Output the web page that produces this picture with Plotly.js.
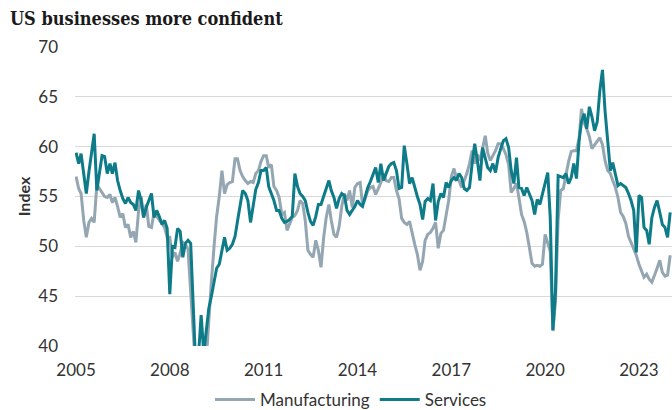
<!DOCTYPE html>
<html>
<head>
<meta charset="utf-8">
<script src="https://cdn.plot.ly/plotly-3.0.1.min.js"></script>
<style>
html,body{margin:0;padding:0;background:#fff;}
#chart{width:672px;height:410px;}
</style>
</head>
<body>
<div id="chart"></div>
<script>
// Monthly index values, Jan 2005 .. Jan 2024
const startYear = 2005;
const manufacturing = [
  57.0, 55.8, 55.3, 52.6, 50.9, 52.4, 52.8, 52.4, 56.2, 55.8, 55.5, 55.0, // 2005
  54.9, 55.2, 54.4, 54.9, 54.0, 52.9, 53.3, 51.9, 52.2, 50.9, 51.5, 50.4, // 2006
  53.5, 55.0, 52.9, 54.2, 52.0, 51.9, 53.4, 53.0, 52.6, 52.2, 51.9, 50.9, // 2007
  50.9, 48.9, 49.4, 48.5, 49.3, 50.4, 50.2, 49.7, 45.0, 39.0, 36.2, 33.0, // 2008
  34.5, 35.5, 38.5, 43.0, 46.5, 50.0, 53.0, 55.0, 57.6, 55.3, 56.2, 56.4, // 2009
  56.5, 58.8, 58.8, 57.6, 57.0, 56.6, 56.3, 56.5, 56.4, 57.3, 57.6, 58.5, // 2010
  59.1, 59.1, 57.9, 58.2, 56.0, 55.6, 54.9, 53.2, 53.4, 51.6, 52.2, 52.9, // 2011
  53.1, 53.6, 54.6, 54.3, 52.6, 49.6, 49.2, 48.9, 50.6, 49.6, 47.9, 50.8, // 2012
  52.9, 54.2, 52.6, 51.2, 50.9, 52.0, 54.0, 55.3, 54.6, 55.6, 53.9, 55.9, // 2013
  56.3, 56.4, 54.2, 54.8, 55.6, 55.9, 56.0, 55.2, 55.8, 56.4, 57.3, 56.6, // 2014
  56.5, 56.9, 56.9, 55.6, 54.8, 52.8, 52.4, 52.2, 52.5, 51.2, 50.2, 49.2, // 2015
  47.6, 48.5, 50.6, 51.2, 51.4, 51.8, 52.4, 49.8, 51.3, 51.6, 53.2, 54.6, // 2016
  57.0, 57.8, 56.9, 56.6, 55.9, 56.6, 57.3, 58.3, 59.6, 58.3, 59.2, 58.6, // 2017
  60.0, 61.1, 59.4, 58.6, 59.1, 59.6, 60.3, 60.3, 59.8, 59.2, 58.2, 55.4, // 2018
  55.8, 56.3, 54.9, 53.2, 52.5, 51.4, 49.9, 48.3, 48.0, 48.1, 48.0, 48.2, // 2019
  51.2, 50.4, 49.5, 41.5, 44.5, 52.6, 55.6, 55.8, 57.3, 58.5, 59.5, 59.6, // 2020
  59.6, 60.8, 63.8, 62.4, 61.8, 61.0, 59.8, 60.2, 60.6, 60.9, 60.2, 58.6, // 2021
  57.6, 57.3, 56.6, 55.9, 54.9, 53.4, 53.0, 52.3, 51.0, 50.4, 49.8, 49.1, // 2022
  48.2, 47.5, 46.9, 47.2, 46.7, 46.4, 47.0, 47.8, 48.6, 47.4, 47.0, 47.1, // 2023
  49.1                                                                     // 2024
];
const services = [
  59.4, 58.3, 59.3, 57.0, 55.3, 57.5, 59.5, 61.3, 55.6, 57.5, 59.1, 59.0, // 2005
  57.3, 58.3, 57.3, 58.4, 56.6, 55.6, 54.8, 54.3, 54.9, 54.4, 54.2, 53.6, // 2006
  55.6, 54.6, 52.9, 53.9, 54.5, 55.3, 52.9, 53.6, 53.0, 52.2, 52.6, 51.8, // 2007
  45.2, 50.0, 49.9, 51.8, 51.5, 48.9, 50.3, 50.6, 50.3, 44.5, 37.5, 39.0, // 2008
  43.1, 39.3, 41.5, 43.8, 45.0, 46.5, 47.8, 48.2, 49.5, 50.9, 49.6, 49.8, // 2009
  50.2, 51.0, 52.5, 54.2, 55.6, 55.3, 54.6, 52.4, 54.2, 55.7, 56.4, 57.6, // 2010
  57.6, 57.9, 56.0, 55.3, 54.6, 53.6, 53.6, 52.8, 52.4, 52.5, 52.7, 53.0, // 2011
  57.3, 56.0, 55.3, 55.0, 54.6, 53.4, 52.5, 52.1, 53.0, 54.2, 54.2, 55.0, // 2012
  55.8, 56.6, 55.6, 54.9, 53.8, 54.8, 55.3, 55.1, 53.6, 53.2, 53.6, 54.0, // 2013
  54.6, 54.2, 54.0, 54.9, 55.9, 56.5, 57.3, 57.9, 56.4, 58.3, 56.6, 57.4, // 2014
  58.0, 58.3, 58.4, 57.6, 55.8, 55.9, 60.1, 58.3, 56.3, 56.9, 55.8, 55.0, // 2015
  54.2, 52.7, 54.5, 54.8, 54.6, 56.3, 52.6, 54.5, 55.3, 54.9, 56.4, 55.9, // 2016
  56.6, 56.9, 56.6, 57.3, 56.9, 55.8, 55.6, 55.9, 58.3, 60.3, 58.6, 56.6, // 2017
  59.9, 58.9, 57.9, 57.6, 58.3, 57.4, 58.9, 59.8, 60.6, 60.8, 59.9, 57.6, // 2018
  56.3, 58.9, 55.9, 55.8, 55.1, 55.9, 55.3, 54.6, 53.2, 54.7, 54.2, 55.3, // 2019
  56.3, 57.4, 52.9, 41.6, 45.4, 57.1, 57.0, 56.9, 57.3, 56.3, 56.9, 58.3, // 2020
  56.8, 60.6, 62.5, 63.3, 61.8, 64.0, 63.0, 61.6, 62.5, 65.6, 67.7, 63.6, // 2021
  60.6, 57.6, 58.4, 57.3, 56.1, 56.3, 56.1, 55.9, 55.3, 54.6, 53.6, 49.4, // 2022
  55.1, 54.9, 51.9, 51.6, 50.2, 52.9, 53.9, 54.6, 53.4, 52.2, 51.9, 50.9, // 2023
  53.4                                                                     // 2024
];
const seriesNames = ["Manufacturing", "Services"];
const tickYears = [2005, 2008, 2011, 2014, 2017, 2020, 2023];
const yTicks = [40, 45, 50, 55, 60, 65, 70];

function monthDates(n) {
  const out = [];
  for (let i = 0; i < n; i++) {
    const y = startYear + Math.floor(i / 12);
    const m = (i % 12) + 1;
    out.push(y + "-" + (m < 10 ? "0" + m : m) + "-01");
  }
  return out;
}
const dates = monthDates(manufacturing.length);

const traces = [
  {x: dates, y: manufacturing, name: seriesNames[0], type: "scatter", mode: "lines",
   line: {color: "#93a6b2", width: 3}},
  {x: dates, y: services, name: seriesNames[1], type: "scatter", mode: "lines",
   line: {color: "#0e7b89", width: 3}}
];

const tickFont = {family: "Lato, 'Open Sans', sans-serif", size: 17, color: "#333333"};

const layout = {
  width: 672, height: 410,
  margin: {l: 75, r: 0, t: 47, b: 64, pad: 0, autoexpand: false},
  paper_bgcolor: "#ffffff", plot_bgcolor: "#ffffff",
  title: {
    text: "<b>US businesses more confident</b>",
    font: {family: "'DejaVu Serif Condensed', 'DejaVu Serif', serif", size: 18, color: "#1a1a1a"},
    x: 10 / 672, xref: "container", xanchor: "left",
    y: 1 - 12 / 410, yref: "container", yanchor: "top"
  },
  xaxis: {
    type: "date",
    range: ["2004-12-20", "2024-01-22"],
    tickvals: tickYears.map(y => y + "-01-01"),
    ticktext: tickYears.map(String),
    tickfont: tickFont,
    showgrid: false, zeroline: false, showline: false,
    ticks: "", ticklabelstandoff: 12
  },
  yaxis: {
    range: [40, 70],
    tickvals: yTicks,
    tickfont: tickFont,
    showgrid: true, gridcolor: "#d9d9d9", gridwidth: 1,
    zeroline: false, showline: false, ticks: "",
    ticklabelstandoff: 16,
    title: {text: "<b>Index</b>", font: {family: "Lato, sans-serif", size: 16, color: "#333333"}, standoff: 3}
  },
  showlegend: true,
  legend: {
    orientation: "h",
    x: (351 - 75) / 597, xanchor: "center",
    yref: "container", y: 10 / 410, yanchor: "middle",
    itemwidth: 40,
    font: tickFont,
    bgcolor: "rgba(0,0,0,0)"
  }
};

Plotly.newPlot("chart", traces, layout, {displayModeBar: false, staticPlot: true});
</script>
</body>
</html>
